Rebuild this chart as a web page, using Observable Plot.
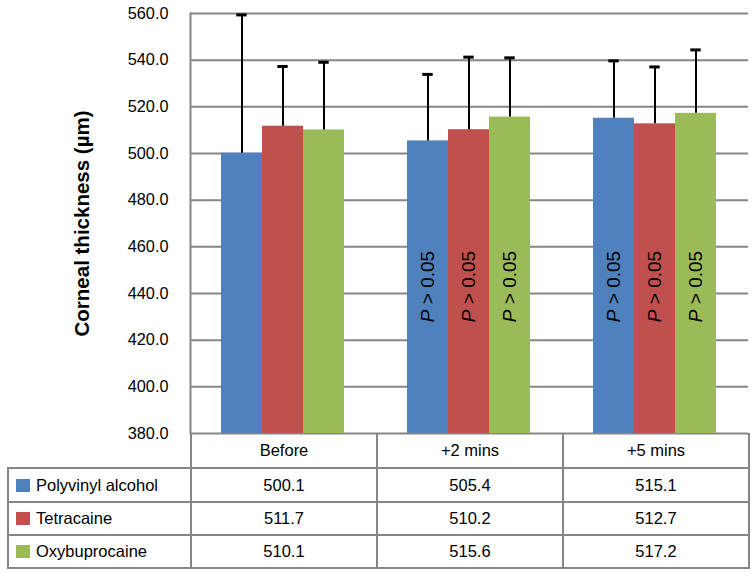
<!DOCTYPE html>
<html>
<head>
<meta charset="utf-8">
<script src="https://cdn.jsdelivr.net/npm/d3@7"></script>
<script src="https://cdn.jsdelivr.net/npm/@observablehq/plot@0.6"></script>
<style>
  html, body { margin: 0; padding: 0; background: #fff; }
  #wrap { position: relative; width: 756px; height: 578px; font-family: "Liberation Sans", Arial, sans-serif; }
  #wrap svg { display: block; }
  #tbl { position: absolute; left: 7px; top: 433px; border-collapse: collapse; table-layout: fixed; width: 742px;
         font-family: "Liberation Sans", Arial, sans-serif; font-size: 16.5px; color: #000; }
  #tbl td { border: 2px solid #868686; padding: 0; text-align: center; white-space: nowrap; }
  #tbl tr.head td { border-top: none; height: 34px; }
  #tbl tr.head td.blank { border-left: none; border-bottom: 2px solid #868686; }
  #tbl tr.r0 td { height: 32px; }
  #tbl tr.r1 td, #tbl tr.r2 td { height: 31px; }
  #tbl td.name { text-align: left; padding-left: 7px; }
  .sw { display: inline-block; width: 14px; height: 13px; vertical-align: -1px; margin-right: 6px; }
</style>
</head>
<body>
<div id="wrap"></div>
<script>
// ---- data ----
const categories = ["Before", "+2 mins", "+5 mins"];
const seriesNames = ["Polyvinyl alcohol", "Tetracaine", "Oxybuprocaine"];
const seriesColors = ["#4F81BD", "#C0504D", "#9BBB59"];
const polyvinylAlcohol = [500.1, 505.4, 515.1];
const tetracaine = [511.7, 510.2, 512.7];
const oxybuprocaine = [510.1, 515.6, 517.2];
const polyvinylAlcoholSD = [59.3, 28.5, 24.6];
const tetracaineSD = [25.6, 31.1, 24.4];
const oxybuprocaineSD = [29.0, 25.4, 27.2];
const pLabels = ["", "P > 0.05", "P > 0.05"];
const pLabelValue = 443;
const yTicks = [380, 400, 420, 440, 460, 480, 500, 520, 540, 560];
const yLabel = "Corneal thickness (µm)";

const seriesValues = [polyvinylAlcohol, tetracaine, oxybuprocaine];
const seriesSD = [polyvinylAlcoholSD, tetracaineSD, oxybuprocaineSD];

const rows = [];
categories.forEach((c, i) => {
  seriesNames.forEach((s, j) => {
    rows.push({category: c, series: s, value: seriesValues[j][i], sd: seriesSD[j][i], p: pLabels[i]});
  });
});

const grid = "#868686";
const yDomain = [yTicks[0], yTicks[yTicks.length - 1]];

const chart = Plot.plot({
  width: 756,
  height: 434,
  marginTop: 13,
  marginLeft: 190,
  marginRight: 8,
  marginBottom: 1,
  style: {fontFamily: "'Liberation Sans', Arial, sans-serif", fontSize: "16px", color: "#000", background: "#fff", overflow: "visible"},
  fx: {domain: categories, padding: 0, axis: null},
  x: {domain: seriesNames, paddingInner: 0, paddingOuter: 0.732, align: 0.487, axis: null},
  y: {domain: yDomain, axis: null},
  color: {domain: seriesNames, range: seriesColors},
  marks: [
    Plot.gridY(yTicks, {stroke: grid, strokeOpacity: 1, strokeWidth: 2}),
    Plot.axisY(yTicks, {tickSize: 0, tickPadding: 22, fontSize: 16.3, tickFormat: d3.format(".1f"), label: null}),
    Plot.barY(rows, {fx: "category", x: "series", y1: yDomain[0], y2: "value", fill: "series", inset: 0}),
    Plot.ruleX(rows, {fx: "category", x: "series", y1: "value", y2: d => d.value + d.sd, stroke: "#000", strokeWidth: 2}),
    Plot.tickY(rows, {fx: "category", x: "series", y: d => d.value + d.sd, stroke: "#000", strokeWidth: 3, insetLeft: 15.3, insetRight: 15.3}),
    Plot.text(rows.filter(d => d.p), {fx: "category", x: "series", y: () => pLabelValue, text: "p", rotate: -90, fontSize: 19, fill: "#000"}),
    Plot.frame({anchor: "left", facet: "super", stroke: grid, strokeWidth: 2}),
    Plot.text([yLabel], {frameAnchor: "left", textAnchor: "middle", dx: -108.5, rotate: -90, fontWeight: "bold", fontSize: 20.5, fill: "#000", facet: "super"})
  ]
});

document.getElementById("wrap").appendChild(chart);

// italic P
d3.select(chart).selectAll("text").each(function() {
  if (this.textContent === "P > 0.05") {
    const t = d3.select(this);
    t.text(null);
    t.append("tspan").attr("font-style", "italic").text("P");
    t.append("tspan").text(" > 0.05");
  }
});

// data table
const tbl = d3.select("#wrap").append("table").attr("id", "tbl");
const cg = tbl.append("colgroup");
cg.append("col").style("width", "183px");
categories.forEach(() => cg.append("col").style("width", "186px"));
const head = tbl.append("tr").attr("class", "head");
head.append("td").attr("class", "blank");
categories.forEach(c => head.append("td").text(c));
seriesNames.forEach((s, j) => {
  const tr = tbl.append("tr").attr("class", "body r" + j);
  const nm = tr.append("td").attr("class", "name");
  nm.append("span").attr("class", "sw").style("background", seriesColors[j]);
  nm.append("span").text(s);
  seriesValues[j].forEach(v => tr.append("td").text(d3.format(".1f")(v)));
});
</script>
</body>
</html>
